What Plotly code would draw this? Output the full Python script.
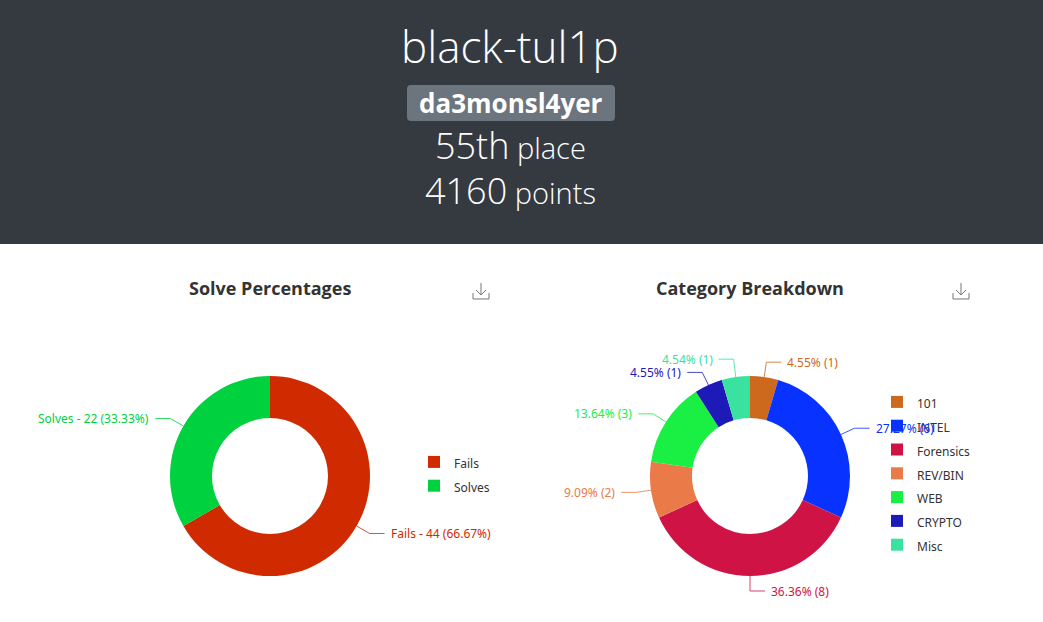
import math
import plotly.graph_objects as go

# ---------------- data ----------------
player_name = "black-tul1p"
team_name = "da3monsl4yer"
place_text = "55th"
points_text = "4160"

solve_labels = ["Fails", "Solves"]
solve_values = [44, 22]
solve_pcts = ["66.67", "33.33"]
solve_colors = ["#d02a00", "#00d13f"]

cat_labels = ["101", "INTEL", "Forensics", "REV/BIN", "WEB", "CRYPTO", "Misc"]
cat_values = [1, 6, 8, 2, 3, 1, 1]
cat_pcts = ["4.55", "27.27", "36.36", "9.09", "13.64", "4.55", "4.54"]
cat_colors = ["#cd691c", "#0832ff", "#cf1445", "#ea7a48", "#1af043", "#1d1ab8", "#3ae2a0"]

# ---------------- layout geometry ----------------
W, H = 1043, 622
def X(px):
    return px / W
def Y(py):
    return 1 - py / H

R_OUT = 100
HOLE = 0.58
CY = 476
CENTERS = [270, 750]
LABEL_FONT = "Noto Sans"

fig = go.Figure()

def legend_labels(labels):
    return ['<span style="font-size:12px">%s</span>' % l for l in labels]

fig.add_trace(go.Pie(
    labels=legend_labels(solve_labels), values=solve_values, hole=HOLE,
    sort=False, direction="clockwise", rotation=0,
    marker=dict(colors=solve_colors, line=dict(width=0)),
    textinfo="none", hoverinfo="label+value+percent",
    domain=dict(x=[X(CENTERS[0] - R_OUT), X(CENTERS[0] + R_OUT)], y=[Y(CY + R_OUT), Y(CY - R_OUT)]),
    legend="legend",
))
fig.add_trace(go.Pie(
    labels=legend_labels(cat_labels), values=cat_values, hole=HOLE,
    sort=False, direction="clockwise", rotation=0,
    marker=dict(colors=cat_colors, line=dict(width=0)),
    textinfo="none", hoverinfo="label+value+percent",
    domain=dict(x=[X(CENTERS[1] - R_OUT), X(CENTERS[1] + R_OUT)], y=[Y(CY + R_OUT), Y(CY - R_OUT)]),
    legend="legend2",
))

shapes = []
annotations = []

def add_labels(cx, values, texts, colors, nudges=None):
    total = float(sum(values))
    cum = 0.0
    nudges = nudges or [0] * len(values)
    for v, t, c, dy in zip(values, texts, colors, nudges):
        mid = (cum + v / 2.0) / total * 2 * math.pi
        cum += v
        s, co = math.sin(mid), math.cos(mid)
        x1, y1 = cx + R_OUT * s, CY - R_OUT * co
        x2, y2 = cx + (R_OUT + 15) * s, CY - (R_OUT + 15) * co + dy
        right = s >= -1e-9
        x3 = x2 + (15 if right else -15)
        shapes.append(dict(
            type="path", xref="paper", yref="paper",
            path="M %f,%f L %f,%f L %f,%f" % (X(x1), Y(y1), X(x2), Y(y2), X(x3), Y(y2)),
            line=dict(color=c, width=1), opacity=0.8,
        ))
        annotations.append(dict(
            x=X(x3 + (4 if right else -4)), y=Y(y2), xref="paper", yref="paper",
            xanchor="left" if right else "right", yanchor="middle",
            text=t, showarrow=False,
            font=dict(family=LABEL_FONT, size=12, color=c),
        ))

add_labels(CENTERS[0], solve_values,
           ["%s - %d (%s%%)" % (l, v, p) for l, v, p in zip(solve_labels, solve_values, solve_pcts)],
           solve_colors)
add_labels(CENTERS[1], cat_values,
           ["%s%% (%d)" % (p, v) for v, p in zip(cat_values, cat_pcts)],
           cat_colors, nudges=[0, 0, 0, 0, 0, 1, -3])

# header background
shapes.insert(0, dict(type="rect", xref="paper", yref="paper", x0=0, x1=1, y0=Y(244), y1=1,
                      fillcolor="#343a40", line=dict(width=0), layer="below"))

# badge (rounded rect)
bx0, bx1, by0, by1, rr = 407, 615, 85, 121, 4
badge_path = ("M %f,%f L %f,%f Q %f,%f %f,%f L %f,%f Q %f,%f %f,%f L %f,%f Q %f,%f %f,%f L %f,%f Q %f,%f %f,%f Z" % (
    X(bx0 + rr), Y(by0), X(bx1 - rr), Y(by0), X(bx1), Y(by0), X(bx1), Y(by0 + rr),
    X(bx1), Y(by1 - rr), X(bx1), Y(by1), X(bx1 - rr), Y(by1),
    X(bx0 + rr), Y(by1), X(bx0), Y(by1), X(bx0), Y(by1 - rr),
    X(bx0), Y(by0 + rr), X(bx0), Y(by0), X(bx0 + rr), Y(by0)))
shapes.append(dict(type="path", xref="paper", yref="paper", path=badge_path,
                   fillcolor="#6c757d", line=dict(width=0), layer="below"))

# download icons
for ix in [481, 961]:
    shapes.append(dict(type="path", xref="paper", yref="paper",
                       path="M %f,%f L %f,%f M %f,%f L %f,%f L %f,%f" % (
                           X(ix), Y(283), X(ix), Y(295),
                           X(ix - 5), Y(290), X(ix), Y(295), X(ix + 5), Y(290)),
                       line=dict(color="#777", width=1)))
    shapes.append(dict(type="path", xref="paper", yref="paper",
                       path="M %f,%f L %f,%f L %f,%f L %f,%f" % (
                           X(ix - 8), Y(293), X(ix - 8), Y(299), X(ix + 8), Y(299), X(ix + 8), Y(293)),
                       line=dict(color="#777", width=1)))

HEAD_FONT = "Open Sans"
annotations += [
    dict(x=X(510), y=Y(46), text=player_name, showarrow=False, xref="paper", yref="paper",
         xanchor="center", yanchor="middle",
         font=dict(family=HEAD_FONT, size=44, weight=300, color="white")),
    dict(x=X(511), y=Y(103), text=team_name, showarrow=False, xref="paper", yref="paper",
         xanchor="center", yanchor="middle",
         font=dict(family=HEAD_FONT, size=26, weight=700, color="white")),
    dict(x=X(510), y=Y(145), text='<span style="font-size:36px">%s</span> place' % place_text,
         showarrow=False, xref="paper", yref="paper",
         xanchor="center", yanchor="middle",
         font=dict(family=HEAD_FONT, size=29, weight=300, color="white")),
    dict(x=X(510), y=Y(190), text='<span style="font-size:36px">%s</span> points' % points_text,
         showarrow=False, xref="paper", yref="paper",
         xanchor="center", yanchor="middle",
         font=dict(family=HEAD_FONT, size=29, weight=300, color="white")),
    dict(x=X(270), y=Y(288), text="<b>Solve Percentages</b>", showarrow=False, xref="paper", yref="paper",
         xanchor="center", yanchor="middle", font=dict(family="Open Sans", size=18, color="#333")),
    dict(x=X(750), y=Y(288), text="<b>Category Breakdown</b>", showarrow=False, xref="paper", yref="paper",
         xanchor="center", yanchor="middle", font=dict(family="Open Sans", size=18, color="#333")),
]

legend_common = dict(xanchor="left", yanchor="top", bgcolor="rgba(0,0,0,0)", borderwidth=0,
                     font=dict(family=LABEL_FONT, size=16, color="#333"), traceorder="normal",
                     itemclick=False, itemdoubleclick=False)

fig.update_layout(
    width=W, height=H,
    margin=dict(l=0, r=0, t=0, b=0),
    paper_bgcolor="white", plot_bgcolor="white",
    shapes=shapes, annotations=annotations,
    showlegend=True,
    legend=dict(x=X(414), y=Y(445), **legend_common),
    legend2=dict(x=X(877), y=Y(385), **legend_common),
)

fig.write_html("out.html")
